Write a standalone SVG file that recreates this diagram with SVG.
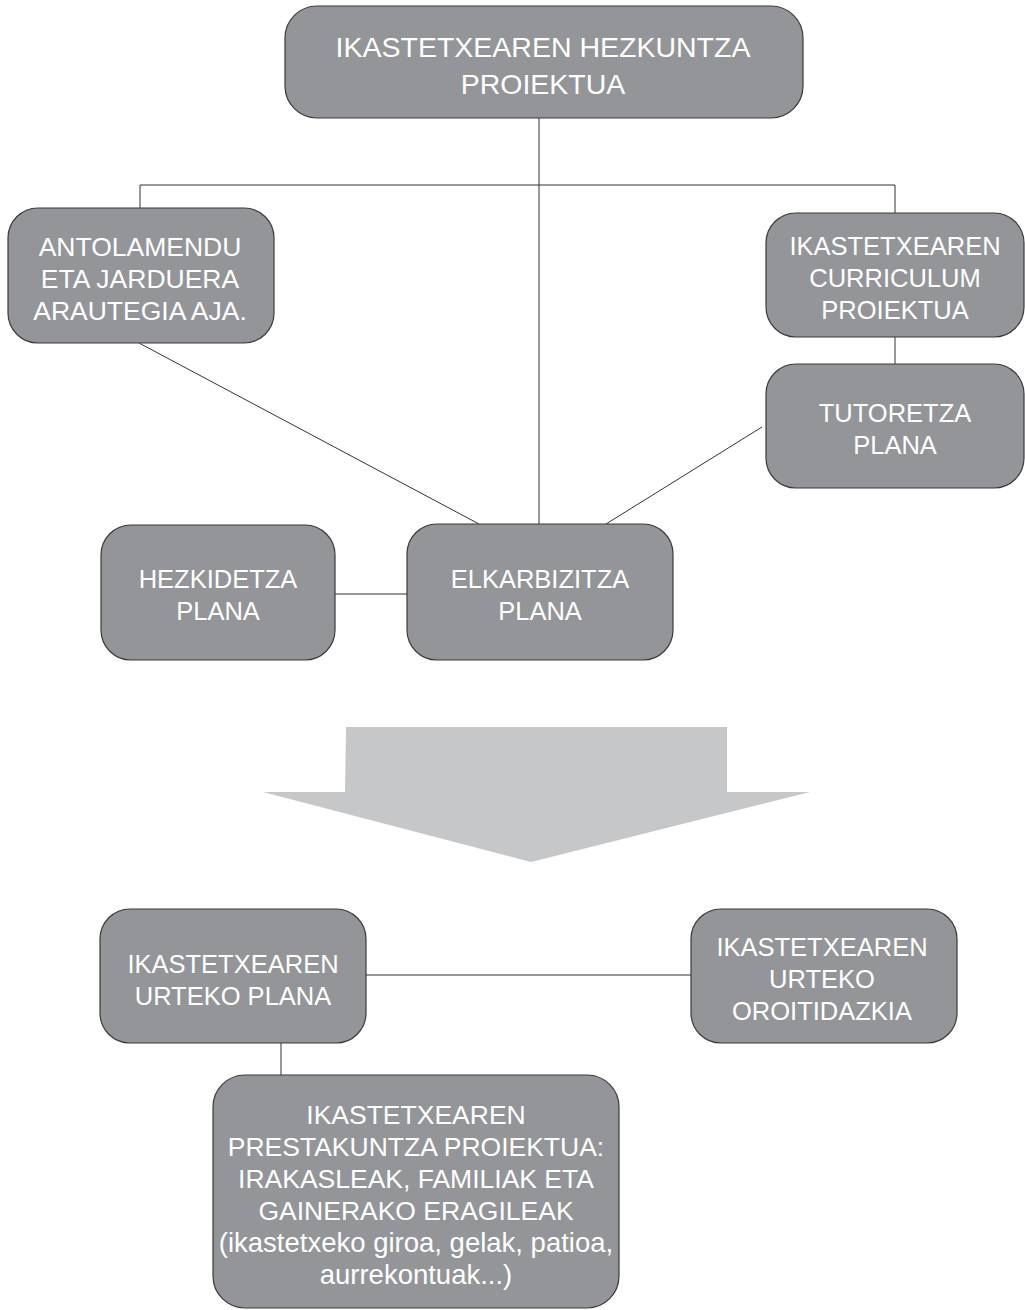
<svg xmlns="http://www.w3.org/2000/svg" width="1025" height="1310" viewBox="0 0 1025 1310">
<style>
.box{fill:#939598;stroke:#3a3a3a;stroke-width:1.2}
.t{font-family:"Liberation Sans",Arial,sans-serif;font-size:25.5px;fill:#ffffff;text-anchor:middle}
.tt{font-size:28.5px}
.tb{font-size:26.5px}
.tl{font-size:27.5px}
.c{stroke:#333333;stroke-width:1;fill:none}
</style>
<rect width="1025" height="1310" fill="#ffffff"/>
<g id="connectors">
<line class="c" x1="539" y1="118" x2="539" y2="524"/>
<polyline class="c" points="140,208 140,185 895,185 895,213"/>
<line class="c" x1="139" y1="343" x2="479" y2="524"/>
<line class="c" x1="895" y1="337" x2="895" y2="364"/>
<line class="c" x1="762" y1="427" x2="606" y2="524"/>
<line class="c" x1="335" y1="594" x2="407" y2="594"/>
<line class="c" x1="366" y1="975" x2="691" y2="975"/>
<line class="c" x1="281" y1="1043" x2="281" y2="1075"/>
</g>
<g id="arrow">
<polygon points="346,727 727,727 727,792 810,792 531,862 263,792 345,792" fill="#c6c7c9"/>
</g>
<g id="n-hezkuntza">
<rect class="box" x="285" y="6" width="518" height="112" rx="32"/>
<text class="t tt" x="543" y="57">IKASTETXEAREN HEZKUNTZA</text>
<text class="t tt" x="543" y="94">PROIEKTUA</text>
</g>
<g id="n-antolamendu">
<rect class="box" x="8" y="208" width="266" height="135" rx="30"/>
<text class="t tb" x="140" y="256">ANTOLAMENDU</text>
<text class="t tb" x="140" y="288">ETA JARDUERA</text>
<text class="t tb" x="140" y="320">ARAUTEGIA AJA.</text>
</g>
<g id="n-curriculum">
<rect class="box" x="766" y="213" width="258" height="124" rx="30"/>
<text class="t" x="895" y="255">IKASTETXEAREN</text>
<text class="t" x="895" y="287">CURRICULUM</text>
<text class="t" x="895" y="319">PROIEKTUA</text>
</g>
<g id="n-tutoretza">
<rect class="box" x="766" y="364" width="258" height="124" rx="30"/>
<text class="t" x="895" y="422">TUTORETZA</text>
<text class="t" x="895" y="454">PLANA</text>
</g>
<g id="n-hezkidetza">
<rect class="box" x="101" y="525" width="234" height="135" rx="30"/>
<text class="t" x="218" y="588">HEZKIDETZA</text>
<text class="t" x="218" y="620">PLANA</text>
</g>
<g id="n-elkarbizitza">
<rect class="box" x="407" y="524" width="266" height="136" rx="30"/>
<text class="t" x="540" y="588">ELKARBIZITZA</text>
<text class="t" x="540" y="620">PLANA</text>
</g>
<g id="n-urteko-plana">
<rect class="box" x="100" y="909" width="266" height="134" rx="30"/>
<text class="t" x="233" y="973">IKASTETXEAREN</text>
<text class="t" x="233" y="1005">URTEKO PLANA</text>
</g>
<g id="n-oroitidazkia">
<rect class="box" x="691" y="909" width="266" height="134" rx="30"/>
<text class="t" x="822" y="956">IKASTETXEAREN</text>
<text class="t" x="822" y="988">URTEKO</text>
<text class="t" x="822" y="1020">OROITIDAZKIA</text>
</g>
<g id="n-prestakuntza">
<rect class="box" x="213" y="1075" width="406" height="233" rx="32"/>
<text class="t tb" x="416" y="1124">IKASTETXEAREN</text>
<text class="t tb" x="416" y="1156">PRESTAKUNTZA PROIEKTUA:</text>
<text class="t tb" x="416" y="1188">IRAKASLEAK, FAMILIAK ETA</text>
<text class="t tb" x="416" y="1220">GAINERAKO ERAGILEAK</text>
<text class="t tl" x="416" y="1252">(ikastetxeko giroa, gelak, patioa,</text>
<text class="t tl" x="416" y="1284">aurrekontuak...)</text>
</g>
</svg>
